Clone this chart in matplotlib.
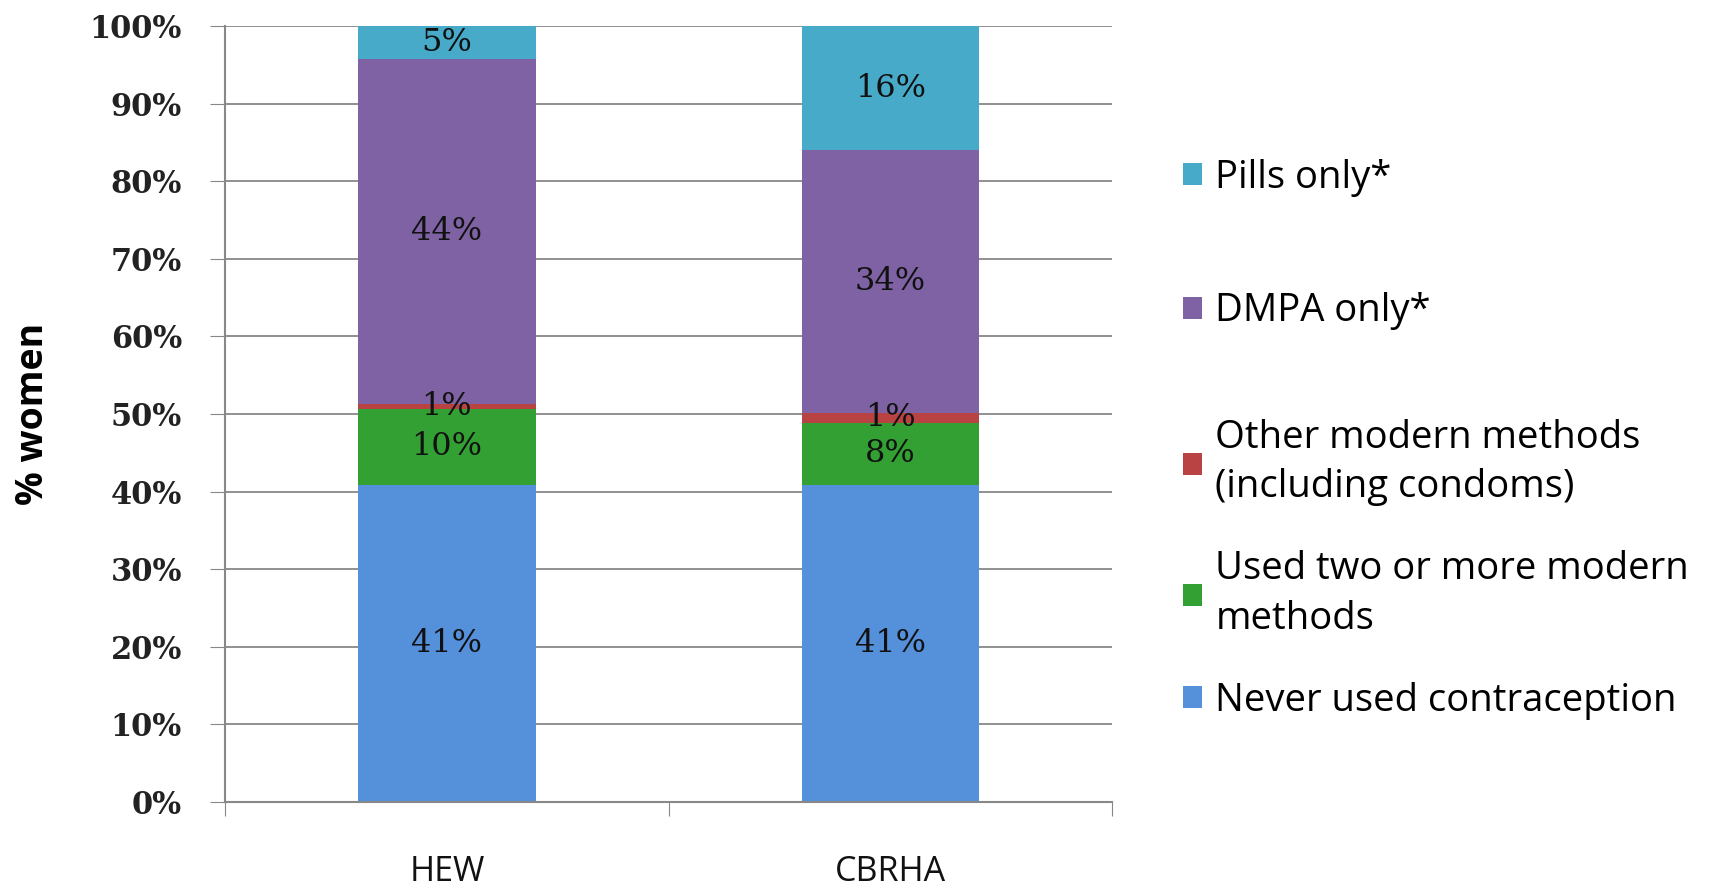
import matplotlib.pyplot as plt
import numpy as np

groups = ["HEW", "CBRHA"]
series = ["Never used contraception", "Used two or more modern\nmethods",
          "Other modern methods\n(including condoms)", "DMPA only*", "Pills only*"]
never = [40.9, 40.9]
two_more = [9.8, 8.0]
other = [0.6, 1.2]
dmpa = [44.5, 33.9]
pills = [4.2, 16.0]
label_never = ["41%", "41%"]
label_two = ["10%", "8%"]
label_other = ["1%", "1%"]
label_dmpa = ["44%", "34%"]
label_pills = ["5%", "16%"]
colors = ["#5590DB", "#33A033", "#B94343", "#7F62A3", "#46AAC8"]

values = [never, two_more, other, dmpa, pills]
labels = [label_never, label_two, label_other, label_dmpa, label_pills]

fig = plt.figure(figsize=(17.09, 8.88), dpi=100)
ax = fig.add_axes([0.1317, 0.0968, 0.519, 0.874])

x = np.arange(len(groups))
bottom = np.zeros(len(groups))
handles = []
for vals, labs, name, c in zip(values, labels, series, colors):
    bars = ax.bar(x, vals, 0.4, bottom=bottom, color=c, label=name, zorder=2)
    handles.append(bars)
    for xi, b, v, t in zip(x, bottom, vals, labs):
        ax.text(xi, b + v / 2, t, ha="center", va="center", fontsize=23,
                family="DejaVu Serif", color="#111111", zorder=3)
    bottom += vals

ax.set_xlim(-0.5, 1.5)
ax.set_ylim(0, 100)
ax.set_yticks(range(0, 101, 10))
ax.set_yticklabels([f"{v}%" for v in range(0, 101, 10)], family="DejaVu Serif",
                   fontsize=22, fontweight="bold", color="#222222")
ax.set_xticks([-0.5, 0.5, 1.5], minor=False)
ax.set_xticklabels([])
ax.set_xticks(x, minor=True)
ax.set_xticklabels(groups, minor=True, fontsize=24.5, family="Open Sans", color="#111111")
ax.tick_params(axis="x", which="minor", length=0, pad=38)
ax.tick_params(axis="x", which="major", length=10, color="#888888", direction="out")
ax.tick_params(axis="y", length=11, color="#888888", direction="out", pad=20)
ax.yaxis.grid(True, color="#888888", linewidth=1.3, zorder=0)
ax.set_axisbelow(True)
for s in ["top", "right"]:
    ax.spines[s].set_visible(False)
for s in ["left", "bottom"]:
    ax.spines[s].set_color("#888888")
    ax.spines[s].set_linewidth(1.5)
ax.set_ylabel("% women", fontsize=27, fontweight="bold", family="Open Sans")
ax.yaxis.set_label_coords(-0.195, 0.5)

# Excel spaces the legend entries unevenly, so split it in two
leg_kw = dict(loc="upper left", frameon=False, prop={"family": "Open Sans", "size": 27.5},
              handlelength=0.5, handleheight=0.5, handletextpad=0.35)
leg1 = fig.legend(handles[:2:-1], series[:2:-1], bbox_to_anchor=(0.672, 0.86),
                  labelspacing=2.5, **leg_kw)
leg2 = fig.legend(handles[2::-1], series[2::-1], bbox_to_anchor=(0.672, 0.567),
                  labelspacing=1.15, **leg_kw)
for leg in (leg1, leg2):
    for t in leg.get_texts():
        t.set_linespacing(1.4)

fig.savefig("out.png", dpi=100)
